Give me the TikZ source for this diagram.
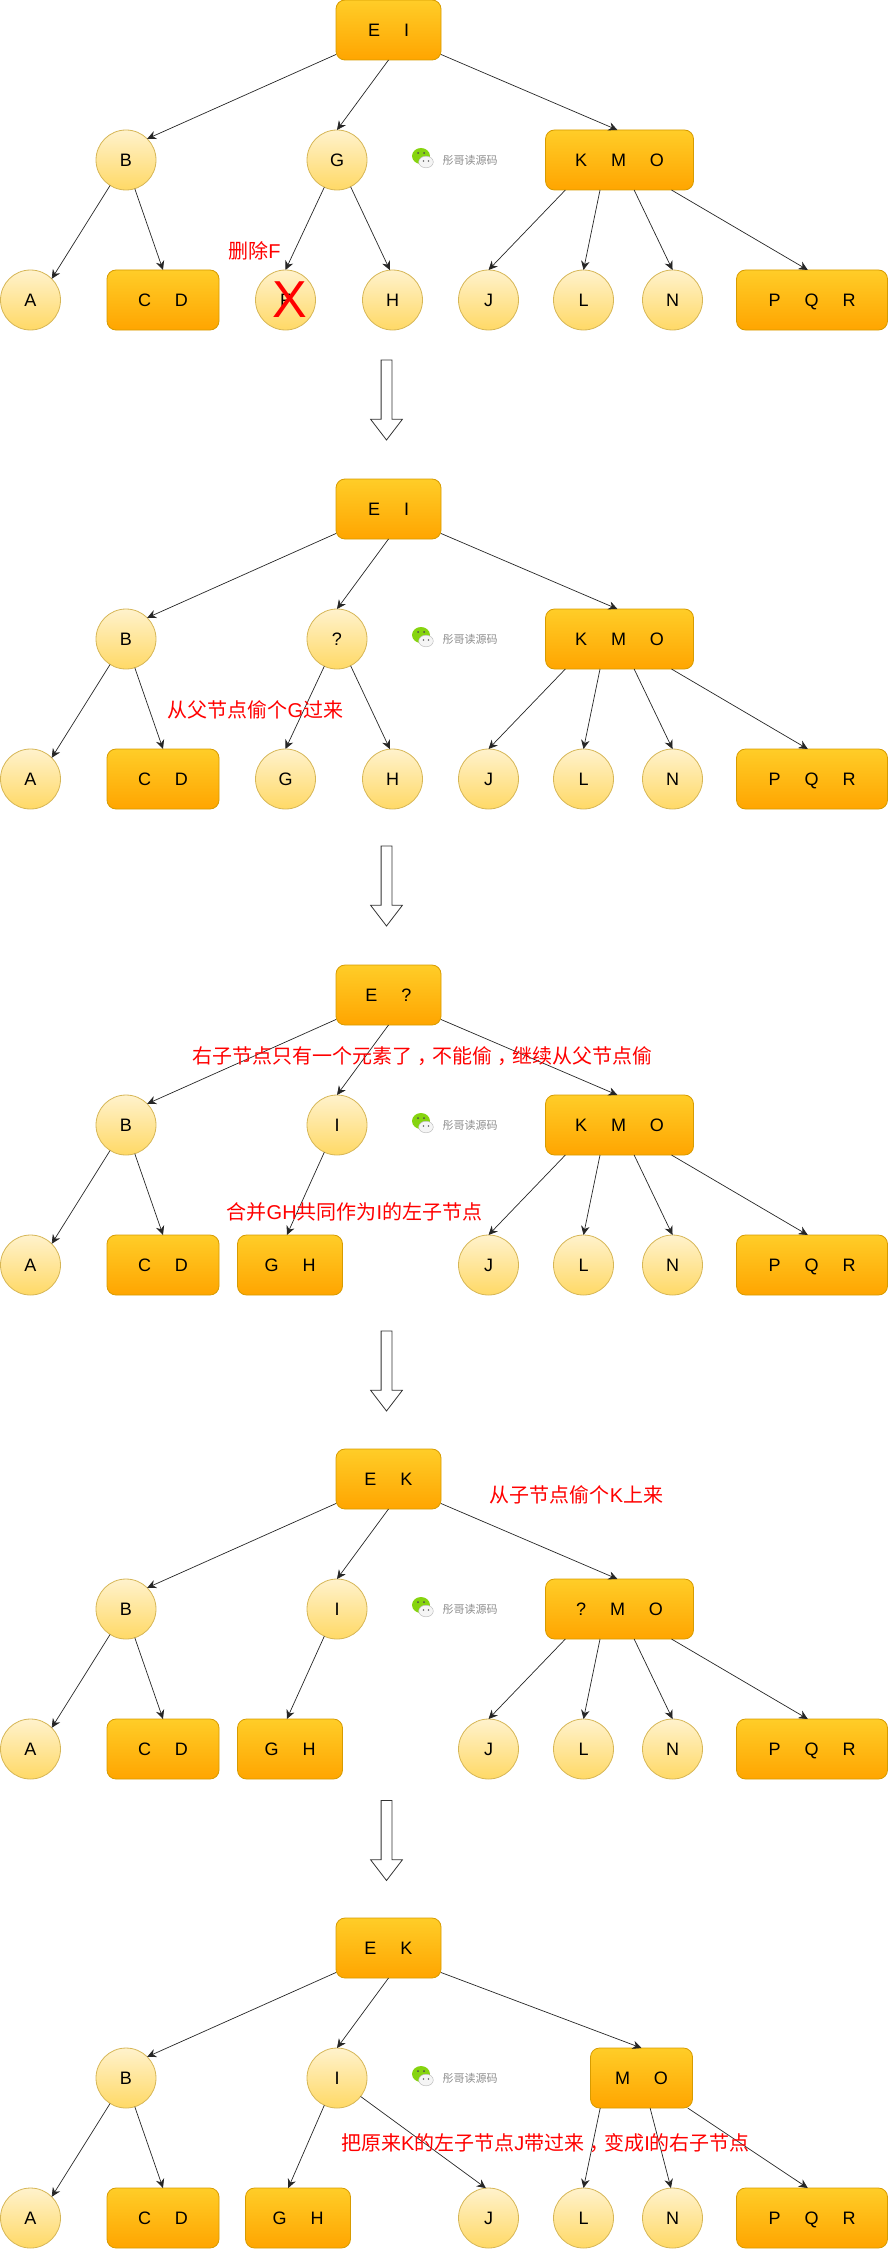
\documentclass[tikz,border=0pt]{standalone}
\usepackage{fontspec}
\setmainfont{Liberation Sans}
\newfontfamily\cjk{Noto Sans CJK SC}
\usetikzlibrary{arrows.meta,shapes.arrows}

\definecolor{keyline}{HTML}{D79B00}
\definecolor{keytop}{HTML}{FFCD28}
\definecolor{keybot}{HTML}{FFA500}
\definecolor{leafline}{HTML}{D6B656}
\definecolor{leaftop}{HTML}{FFF2CC}
\definecolor{leafbot}{HTML}{FFD966}
\definecolor{wxgreen}{HTML}{86D40F}

\newcommand{\gp}{\hspace{24pt}}
\newcommand{\zh}[1]{{\cjk #1}}
\newcommand{\cm}{\hspace{5pt}，\hspace{-5pt}}

\tikzset{
  wechat/.pic={
    \fill[wxgreen] (421,156) ellipse (9pt and 8pt);
    \fill[black!70] (418,153) circle (1pt) (424,153) circle (1pt);
    \fill[black!4] (426,162) ellipse (7.3pt and 5.8pt);
    \draw[black!25, line width=.5pt] (426,162) ellipse (7.3pt and 5.8pt);
    \fill[black!60] (423.5,161) circle (.8pt) (428.5,161) circle (.8pt);
  }
}

\begin{document}
\begin{tikzpicture}[
  x=1pt, y=-1pt,
  keybox/.style={rectangle, draw=keyline, line width=.8pt, rounded corners=9pt, top color=keytop, bottom color=keybot, minimum height=60pt, outer sep=0pt, inner sep=0pt, text height=12.9pt, text depth=0pt, font=\fontsize{18}{18}\selectfont},
  leaf/.style={circle, draw=leafline, line width=.8pt, top color=leaftop, bottom color=leafbot, minimum size=60pt, outer sep=0pt, inner sep=0pt, text height=12.9pt, text depth=0pt, font=\fontsize{18}{18}\selectfont},
  arr/.style={-{Stealth[length=9pt,width=8.5pt]}, line width=.7pt, black!85},
  note/.style={text=red, inner sep=0pt, font=\fontsize{20}{20}\selectfont},
  wmark/.style={text=black!45, inner sep=0pt, font=\cjk\fontsize{11}{11}\selectfont},
  downarr/.style={single arrow, draw=black!80, fill=white, line width=.8pt, shape border rotate=270, inner sep=5pt, outer sep=0pt, minimum height=80pt, single arrow head extend=10.5pt, single arrow tip angle=75, anchor=tail},
]
  \useasboundingbox (0,0) rectangle (888,2250);

  % delete F
  \begin{scope}[name prefix=p1-]
    \node[keybox, minimum width=105pt] (root) at (388.5,30) {E\gp I};
    \node[leaf] (b) at (126,160) {B};
    \node[leaf] (g) at (337,160) {G};
    \node[keybox, minimum width=148pt] (kmo) at (619.5,160) {K\gp M\gp O};
    \node[leaf] (a) at (30.5,300) {A};
    \node[keybox, minimum width=112pt] (cd) at (163,300) {C\gp D};
    \node[leaf] (f) at (285.5,300) {F};
    \node[leaf] (h) at (392.5,300) {H};
    \node[leaf] (j) at (488.5,300) {J};
    \node[leaf] (l) at (583.5,300) {L};
    \node[leaf] (n) at (672.5,300) {N};
    \node[keybox, minimum width=151pt] (pqr) at (812,300) {P\gp Q\gp R};
    \node[note, font=\fontsize{52}{52}\selectfont] (cross) at (290,300) {X};
    \node[note] (del) at (254.5,251) {\zh{删除}F};
    \pic at (0,0) {wechat};
    \node[wmark] (wm) at (470.2,160) {彤哥读源码};

    \draw[arr] (root.205) -- (b.45);
    \draw[arr] (root.south) -- (g.north);
    \draw[arr] (root.335) -- (kmo.94);
    \draw[arr] (b.238) -- (a.45);
    \draw[arr] (b.287) -- (cd.north);
    \draw[arr] (g.245) -- (f.north);
    \draw[arr] (g.297) -- (h.95);
    \draw[arr] (kmo.209) -- (j.north);
    \draw[arr] (kmo.237.6) -- (l.north);
    \draw[arr] (kmo.296.6) -- (n.north);
    \draw[arr] (kmo.330.5) -- (pqr.98);
  \end{scope}

  \node[downarr] (flow1) at (386.5,360) {};

  % borrow G from the parent
  \begin{scope}[yshift=-479pt, name prefix=p2-]
    \node[keybox, minimum width=105pt] (root) at (388.5,30) {E\gp I};
    \node[leaf] (b) at (126,160) {B};
    \node[leaf] (q) at (337,160) {?};
    \node[keybox, minimum width=148pt] (kmo) at (619.5,160) {K\gp M\gp O};
    \node[leaf] (a) at (30.5,300) {A};
    \node[keybox, minimum width=112pt] (cd) at (163,300) {C\gp D};
    \node[leaf] (g) at (285.5,300) {G};
    \node[leaf] (h) at (392.5,300) {H};
    \node[leaf] (j) at (488.5,300) {J};
    \node[leaf] (l) at (583.5,300) {L};
    \node[leaf] (n) at (672.5,300) {N};
    \node[keybox, minimum width=151pt] (pqr) at (812,300) {P\gp Q\gp R};
    \pic at (0,0) {wechat};
    \node[wmark] (wm) at (470.2,160) {彤哥读源码};

    \draw[arr] (root.205) -- (b.45);
    \draw[arr] (root.south) -- (q.north);
    \draw[arr] (root.335) -- (kmo.94);
    \draw[arr] (b.238) -- (a.45);
    \draw[arr] (b.287) -- (cd.north);
    \draw[arr] (q.245) -- (g.north);
    \draw[arr] (q.297) -- (h.95);
    \draw[arr] (kmo.209) -- (j.north);
    \draw[arr] (kmo.237.6) -- (l.north);
    \draw[arr] (kmo.296.6) -- (n.north);
    \draw[arr] (kmo.330.5) -- (pqr.98);
    \node[note] (steal) at (255.5,231) {\zh{从父节点偷个}G\zh{过来}};
  \end{scope}

  \node[downarr] (flow2) at (386.5,846) {};

  % merge G and H under I
  \begin{scope}[yshift=-965pt, name prefix=p3-]
    \node[keybox, minimum width=105pt] (root) at (388.5,30) {E\gp ?};
    \node[leaf] (b) at (126,160) {B};
    \node[leaf] (i) at (337,160) {I};
    \node[keybox, minimum width=148pt] (kmo) at (619.5,160) {K\gp M\gp O};
    \node[leaf] (a) at (30.5,300) {A};
    \node[keybox, minimum width=112pt] (cd) at (163,300) {C\gp D};
    \node[keybox, minimum width=105pt] (gh) at (290,300) {G\gp H};
    \node[leaf] (j) at (488.5,300) {J};
    \node[leaf] (l) at (583.5,300) {L};
    \node[leaf] (n) at (672.5,300) {N};
    \node[keybox, minimum width=151pt] (pqr) at (812,300) {P\gp Q\gp R};
    \pic at (0,0) {wechat};
    \node[wmark] (wm) at (470.2,160) {彤哥读源码};

    \draw[arr] (root.205) -- (b.45);
    \draw[arr] (root.south) -- (i.north);
    \draw[arr] (root.335) -- (kmo.94);
    \draw[arr] (b.238) -- (a.45);
    \draw[arr] (b.287) -- (cd.north);
    \draw[arr] (i.245) -- (gh.96);
    \draw[arr] (kmo.209) -- (j.north);
    \draw[arr] (kmo.237.6) -- (l.north);
    \draw[arr] (kmo.296.6) -- (n.north);
    \draw[arr] (kmo.330.5) -- (pqr.98);
    \node[note] (only) at (422,91) {\zh{右子节点只有一个元素了\cm 不能偷\cm 继续从父节点偷}};
    \node[note] (merge) at (354.5,246.7) {\zh{合并}GH\zh{共同作为}I\zh{的左子节点}};
  \end{scope}

  \node[downarr] (flow3) at (386.5,1331) {};

  % pull K up from the child
  \begin{scope}[yshift=-1449pt, name prefix=p4-]
    \node[keybox, minimum width=105pt] (root) at (388.5,30) {E\gp K};
    \node[leaf] (b) at (126,160) {B};
    \node[leaf] (i) at (337,160) {I};
    \node[keybox, minimum width=148pt] (qmo) at (619.5,160) {?\gp M\gp O};
    \node[leaf] (a) at (30.5,300) {A};
    \node[keybox, minimum width=112pt] (cd) at (163,300) {C\gp D};
    \node[keybox, minimum width=105pt] (gh) at (290,300) {G\gp H};
    \node[leaf] (j) at (488.5,300) {J};
    \node[leaf] (l) at (583.5,300) {L};
    \node[leaf] (n) at (672.5,300) {N};
    \node[keybox, minimum width=151pt] (pqr) at (812,300) {P\gp Q\gp R};
    \pic at (0,0) {wechat};
    \node[wmark] (wm) at (470.2,160) {彤哥读源码};

    \draw[arr] (root.205) -- (b.45);
    \draw[arr] (root.south) -- (i.north);
    \draw[arr] (root.335) -- (qmo.94);
    \draw[arr] (b.238) -- (a.45);
    \draw[arr] (b.287) -- (cd.north);
    \draw[arr] (i.245) -- (gh.96);
    \draw[arr] (qmo.209) -- (j.north);
    \draw[arr] (qmo.237.6) -- (l.north);
    \draw[arr] (qmo.296.6) -- (n.north);
    \draw[arr] (qmo.330.5) -- (pqr.98);
    \node[note] (pull) at (576.5,46) {\zh{从子节点偷个}K\zh{上来}};
  \end{scope}

  \node[downarr] (flow4) at (386.5,1800.5) {};

  % J moves over to I
  \begin{scope}[yshift=-1918pt, name prefix=p5-]
    \node[keybox, minimum width=105pt] (root) at (388.5,30) {E\gp K};
    \node[leaf] (b) at (126,160) {B};
    \node[leaf] (i) at (337,160) {I};
    \node[keybox, minimum width=102pt] (mo) at (641.5,160) {M\gp O};
    \node[leaf] (a) at (30.5,300) {A};
    \node[keybox, minimum width=112pt] (cd) at (163,300) {C\gp D};
    \node[keybox, minimum width=105pt] (gh) at (298,300) {G\gp H};
    \node[leaf] (j) at (488.5,300) {J};
    \node[leaf] (l) at (583.5,300) {L};
    \node[leaf] (n) at (672.5,300) {N};
    \node[keybox, minimum width=151pt] (pqr) at (812,300) {P\gp Q\gp R};
    \pic at (0,0) {wechat};
    \node[wmark] (wm) at (470.2,160) {彤哥读源码};

    \draw[arr] (root.205) -- (b.45);
    \draw[arr] (root.south) -- (i.north);
    \draw[arr] (root.335) -- (mo.north);
    \draw[arr] (b.238) -- (a.45);
    \draw[arr] (b.287) -- (cd.north);
    \draw[arr] (i.245) -- (gh.108);
    \draw[arr] (i.322) -- (j.95);
    \draw[arr] (mo.216) -- (l.north);
    \draw[arr] (mo.286) -- (n.93);
    \draw[arr] (mo.327) -- (pqr.98);
    \node[note] (move) at (545.5,225) {\zh{把原来}K\zh{的左子节点}J\zh{带过来\cm 变成}I\zh{的右子节点}};
  \end{scope}
\end{tikzpicture}
\end{document}
